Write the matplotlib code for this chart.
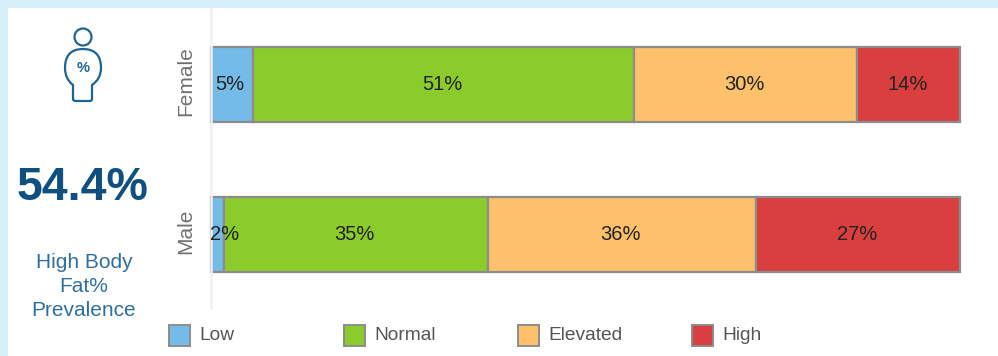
import matplotlib
matplotlib.use('Agg')
import matplotlib.pyplot as plt
from matplotlib.patches import Rectangle, Circle, PathPatch
from matplotlib.path import Path
from matplotlib.transforms import ScaledTranslation
import numpy as np

plt.rcParams['font.family'] = ['Liberation Sans', 'DejaVu Sans']

#data
groups = ['Female', 'Male']
levels = ['Low', 'Normal', 'Elevated', 'High']
low = [5.6, 1.8]
normal = [50.9, 35.2]
elevated = [29.8, 35.8]
high = [13.7, 27.2]
low_labels = ['5%', '2%']
normal_labels = ['51%', '35%']
elevated_labels = ['30%', '36%']
high_labels = ['14%', '27%']
colors = ['#74bbe8', '#8bcb2c', '#fdc16b', '#d93f3f']

W, H = 998, 356
fig = plt.figure(figsize=(W / 100, H / 100), dpi=100, facecolor='#d6eff9')

#overlay in pixel coords for the card, icon and legend
bg = fig.add_axes([0, 0, 1, 1])
bg.set_xlim(0, W)
bg.set_ylim(H, 0)
bg.axis('off')
bg.add_patch(Rectangle((8, 8), W - 8, H - 8, fc='white', ec='none'))

#person icon
navy = '#1f6491'
bg.add_patch(Circle((83, 37), 8.5, fc='none', ec=navy, lw=1.6))
body = Path([(73, 85), (65, 79), (65, 68), (65, 49), (83, 49), (101, 49), (101, 68), (101, 79),
             (92, 85), (92, 99), (92, 101), (90, 101), (76, 101), (73, 101), (73, 99), (73, 85)],
            [Path.MOVETO, Path.CURVE3, Path.CURVE3, Path.CURVE3, Path.CURVE3, Path.CURVE3, Path.CURVE3,
             Path.CURVE3, Path.CURVE3, Path.LINETO, Path.CURVE3, Path.CURVE3, Path.LINETO, Path.CURVE3,
             Path.CURVE3, Path.CLOSEPOLY])
bg.add_patch(PathPatch(body, fc='none', ec=navy, lw=1.6))
bg.text(83, 68, '%', color=navy, fontsize=10.5, fontweight='bold', ha='center', va='center')

bg.text(83, 188, '54.4%', color='#0f5080', fontsize=33.5, fontweight='bold', ha='center', va='center')
for y, line in zip([262, 286, 310], ['High Body', 'Fat%', 'Prevalence']):
    bg.text(84, y, line, color='#2f6f9e', fontsize=15, ha='center', va='center')

#stacked bars
ax = fig.add_axes([211 / W, 1 - 308 / H, 749 / W, 300 / H])
ax.patch.set_alpha(0)
pos = np.array([0, 1])
left = np.zeros(2)
series = [low, normal, elevated, high]
texts = [low_labels, normal_labels, elevated_labels, high_labels]
for vals, labs, c in zip(series, texts, colors):
    vals = np.array(vals)
    ax.barh(pos, vals, left=left, height=0.5, color=c, edgecolor='#8c8c8c', linewidth=1.6, clip_on=False)
    for p, v, l, lab in zip(pos, vals, left, labs):
        dx = -1.5
        if lab == '5%':
            dx = -2.5
        if lab == '2%':
            dx = 7
        ax.annotate(lab, (l + v / 2, p), xytext=(dx * 0.72, 0), textcoords='offset points',
                    ha='center', va='center', fontsize=14.5, color='#222222')
    left = left + vals

ax.set_xlim(0, 100)
ax.set_ylim(1.487, -0.513)
ax.set_xticks([])
ax.set_yticks(pos)
ax.set_yticklabels(groups, rotation=90, va='center', fontsize=15, color='#707070')
ax.tick_params(axis='y', length=0, pad=11)
#nudge the rotated labels up a bit
shift = ScaledTranslation(0, 4 / 100, fig.dpi_scale_trans)
for lab in ax.get_yticklabels():
    lab.set_transform(lab.get_transform() + shift)
for s in ['top', 'right', 'bottom']:
    ax.spines[s].set_visible(False)
ax.spines['left'].set_color('#f0f0f0')
ax.spines['left'].set_linewidth(1.8)

#legend, fixed slots
for x, name, c in zip([168, 343, 517, 691], levels, colors):
    bg.add_patch(Rectangle((x + 1, 325), 21, 21, fc=c, ec='#8c8c8c', lw=1.4))
    bg.text(x + 31, 335, name, color='#555555', fontsize=13.8, ha='left', va='center')

fig.savefig('out.png', dpi=100, facecolor=fig.get_facecolor())
